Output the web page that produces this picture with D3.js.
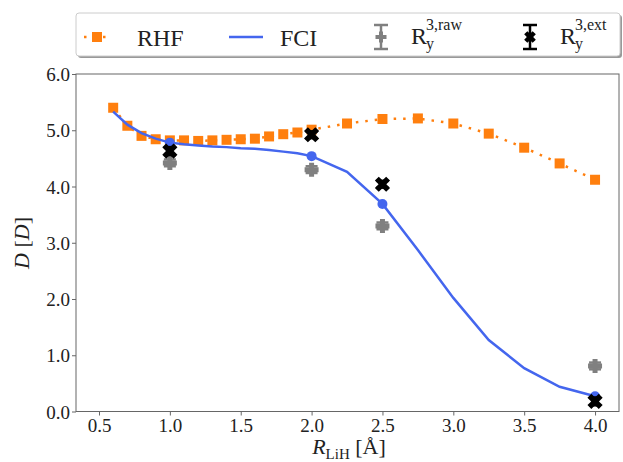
<!DOCTYPE html>
<html>
<head>
<meta charset="utf-8">
<script src="https://cdn.jsdelivr.net/npm/d3@7"></script>
<style>
  body { margin: 0; background: #fff; }
  svg text { font-family: "Liberation Serif", "DejaVu Serif", serif; fill: #222; }
</style>
</head>
<body>
<svg id="chart"></svg>
<script>
var width = 623, height = 462;
var margin = {top: 74, right: 4, bottom: 50.5, left: 76};

// RHF curve
var rhfX = [0.6, 0.7, 0.8, 0.9, 1.0, 1.1, 1.2, 1.3, 1.4, 1.5, 1.6, 1.7, 1.8, 1.9, 2.0, 2.25, 2.5, 2.75, 3.0, 3.25, 3.5, 3.75, 4.0];
var rhfY = [5.40, 5.08, 4.90, 4.84, 4.82, 4.82, 4.81, 4.82, 4.83, 4.84, 4.85, 4.89, 4.93, 4.96, 5.01, 5.12, 5.20, 5.21, 5.12, 4.94, 4.69, 4.41, 4.12];

// FCI curve (same grid)
var fciY = [5.33, 5.10, 4.95, 4.85, 4.78, 4.75, 4.73, 4.71, 4.70, 4.68, 4.67, 4.65, 4.62, 4.59, 4.54, 4.26, 3.69, 2.87, 2.02, 1.27, 0.77, 0.44, 0.27];
var fciMarkX = [1.0, 2.0, 2.5, 4.0];

// R_y^3 estimates
var estX = [1.0, 2.0, 2.5, 4.0];
var rawY = [4.42, 4.30, 3.30, 0.81];
var rawErr = [0.06, 0.06, 0.06, 0.06];
var extY = [4.63, 4.92, 4.04, 0.18];
var extErr = [0.07, 0.06, 0.06, 0.07];

var xTicks = [0.5, 1.0, 1.5, 2.0, 2.5, 3.0, 3.5, 4.0];
var yTicks = [0, 1, 2, 3, 4, 5, 6];

var orange = "#ff7f0e", blue = "#4466ee", gray = "#808080";

var svg = d3.select("#chart").attr("width", width).attr("height", height);
var iw = width - margin.left - margin.right, ih = height - margin.top - margin.bottom;

var x = d3.scaleLinear().domain([0.3377, 4.169]).range([margin.left, margin.left + iw]);
var y = d3.scaleLinear().domain([0, 6]).range([margin.top + ih, margin.top]);

// frame
svg.append("rect")
  .attr("x", margin.left).attr("y", margin.top)
  .attr("width", iw).attr("height", ih)
  .attr("fill", "none").attr("stroke", "#666").attr("stroke-width", 1);

var xAxis = d3.axisBottom(x).tickValues(xTicks).tickFormat(d3.format(".1f")).tickSize(4).tickPadding(3);
var gx = svg.append("g").attr("transform", "translate(0," + (margin.top + ih) + ")").call(xAxis);
var yAxis = d3.axisLeft(y).tickValues(yTicks).tickFormat(d3.format(".1f")).tickSize(4).tickPadding(2);
var gy = svg.append("g").attr("transform", "translate(" + margin.left + ",0)").call(yAxis);
[gx, gy].forEach(function(g) {
  g.select(".domain").remove();
  g.selectAll(".tick line").attr("stroke", "#666");
  g.selectAll(".tick text").style("font-size", "19px").attr("fill", "#222");
});
gy.selectAll(".tick text").attr("dy", "0.35em");

// axis titles
var xt = svg.append("text").attr("x", 349).attr("y", 454).attr("text-anchor", "middle").style("font-size", "22px");
xt.append("tspan").style("font-style", "italic").text("R");
xt.append("tspan").attr("dy", 5).style("font-size", "15px").text("LiH");
xt.append("tspan").attr("dy", -5).text(" [Å]");

var yt = svg.append("text").attr("transform", "translate(29,243) rotate(-90)").attr("text-anchor", "middle").style("font-size", "22px");
yt.append("tspan").style("font-style", "italic").text("D");
yt.append("tspan").text(" [");
yt.append("tspan").style("font-style", "italic").text("D");
yt.append("tspan").text("]");

var plot = svg.append("g");

// RHF
var rhf = rhfX.map(function(d, i) { return [d, rhfY[i]]; });
var line = d3.line().x(function(d) { return x(d[0]); }).y(function(d) { return y(d[1]); });
plot.append("path").attr("d", line(rhf))
  .attr("fill", "none").attr("stroke", orange).attr("stroke-width", 2.5)
  .attr("stroke-dasharray", "2.5,7").attr("stroke-linecap", "butt");
plot.selectAll("rect.rhf").data(rhf).enter().append("rect")
  .attr("class", "rhf")
  .attr("x", function(d) { return x(d[0]) - 5; })
  .attr("y", function(d) { return y(d[1]) - 5; })
  .attr("width", 10).attr("height", 10).attr("fill", orange);

// FCI
var fci = rhfX.map(function(d, i) { return [d, fciY[i]]; });
plot.append("path").attr("d", line(fci))
  .attr("fill", "none").attr("stroke", blue).attr("stroke-width", 2.5);
plot.selectAll("circle.fci").data(fci.filter(function(d) { return fciMarkX.indexOf(d[0]) >= 0; }))
  .enter().append("circle").attr("class", "fci")
  .attr("cx", function(d) { return x(d[0]); })
  .attr("cy", function(d) { return y(d[1]); })
  .attr("r", 5).attr("fill", blue);

// marker shapes: filled plus, and filled X (plus turned by 45 degrees)
function plusPath(s, w) {
  var a = s / 2, b = w / 2;
  return "M" + (-b) + "," + (-a) + "H" + b + "V" + (-b) + "H" + a + "V" + b + "H" + b + "V" + a + "H" + (-b) + "V" + b + "H" + (-a) + "V" + (-b) + "H" + (-b) + "Z";
}

function errorSeries(ys, errs, color, shape, rot) {
  var data = estX.map(function(d, i) { return {x: d, y: ys[i], e: errs[i]}; });
  var g = plot.selectAll(null).data(data).enter().append("g")
    .attr("transform", function(d) { return "translate(" + x(d.x) + "," + y(d.y) + ")"; });
  g.append("line").attr("y1", function(d) { return y(d.y + d.e) - y(d.y); })
    .attr("y2", function(d) { return y(d.y - d.e) - y(d.y); })
    .attr("stroke", color).attr("stroke-width", 2.5);
  [1, -1].forEach(function(sg) {
    g.append("line").attr("x1", -6).attr("x2", 6)
      .attr("y1", function(d) { return y(d.y + sg * d.e) - y(d.y); })
      .attr("y2", function(d) { return y(d.y + sg * d.e) - y(d.y); })
      .attr("stroke", color).attr("stroke-width", 2.5);
  });
  g.append("path").attr("d", shape).attr("fill", color).attr("transform", "rotate(" + rot + ")");
}
errorSeries(rawY, rawErr, gray, plusPath(14, 5), 0);
errorSeries(extY, extErr, "#000", plusPath(16, 5.5), 45);

// legend
var lg = svg.append("g");
lg.append("rect").attr("x", 78).attr("y", 15).attr("width", 544).attr("height", 43)
  .attr("rx", 3).attr("fill", "#999");
lg.append("rect").attr("x", 76).attr("y", 13).attr("width", 544).attr("height", 43)
  .attr("rx", 3).attr("fill", "#fff").attr("stroke", "#ccc");
var ly = 37;
lg.append("line").attr("x1", 82).attr("x2", 112).attr("y1", ly).attr("y2", ly)
  .attr("stroke", orange).attr("stroke-width", 2.5).attr("stroke-dasharray", "2.5,7").attr("stroke-dashoffset", -2);
lg.append("rect").attr("x", 92).attr("y", ly - 5).attr("width", 10).attr("height", 10).attr("fill", orange);
lg.append("text").attr("x", 137).attr("y", ly + 9).style("font-size", "24px").text("RHF");
lg.append("line").attr("x1", 229).attr("x2", 263).attr("y1", ly).attr("y2", ly)
  .attr("stroke", blue).attr("stroke-width", 2.5);
lg.append("text").attr("x", 280).attr("y", ly + 9).style("font-size", "24px").text("FCI");

function legendErr(cx, color, shape, rot, label) {
  var g = lg.append("g").attr("transform", "translate(" + cx + "," + ly + ")");
  g.append("line").attr("y1", -12).attr("y2", 12).attr("stroke", color).attr("stroke-width", 2.5);
  g.append("line").attr("x1", -7).attr("x2", 7).attr("y1", -12).attr("y2", -12).attr("stroke", color).attr("stroke-width", 2.5);
  g.append("line").attr("x1", -7).attr("x2", 7).attr("y1", 12).attr("y2", 12).attr("stroke", color).attr("stroke-width", 2.5);
  g.append("path").attr("d", shape).attr("fill", color).attr("transform", "rotate(" + rot + ")");
  var t = lg.append("text").attr("x", cx + 30).attr("y", ly + 7).style("font-size", "24px");
  t.append("tspan").text("R");
  t.append("tspan").attr("dx", -1).attr("dy", 5).style("font-size", "16px").text("y");
  t.append("tspan").attr("dx", -8).attr("dy", -19).style("font-size", "16px").text(label);
}
legendErr(381, gray, plusPath(11, 4), 0, "3,raw");
legendErr(530, "#000", plusPath(12, 4.5), 45, "3,ext");
</script>
</body>
</html>
